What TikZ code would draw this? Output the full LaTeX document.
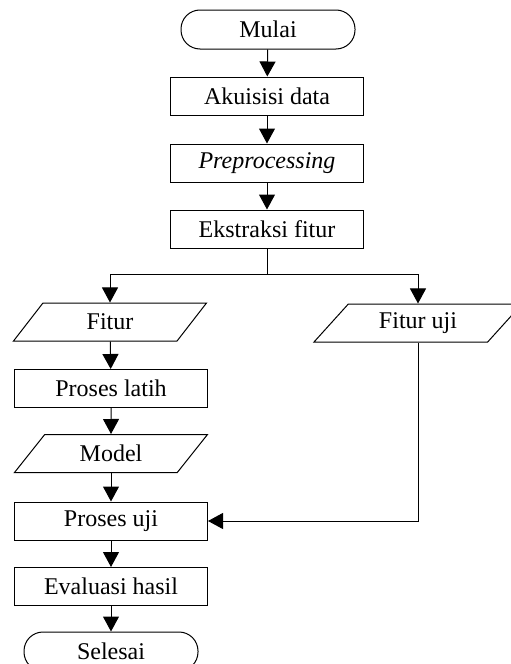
\documentclass[tikz,border=0pt]{standalone}
\usepackage{fontspec}
\setmainfont{Liberation Serif}
\usetikzlibrary{arrows.meta,shapes.geometric}

\begin{document}
\begin{tikzpicture}[x=0.5pt, y=-0.5pt, line width=0.5pt,
    font=\fontsize{12}{14}\selectfont,
    proses/.style={draw, rectangle, minimum width=96.5pt, minimum height=19pt},
    terminal/.style={draw, rectangle, rounded corners=9.5pt, minimum width=87pt, minimum height=19.5pt},
    dataio/.style={draw, trapezium, trapezium left angle=45, trapezium right angle=135,
        trapezium stretches body=true, minimum width=96.5pt, minimum height=19pt},
    panah/.style={-{Triangle[length=7.5pt, width=8pt]}}]
            \useasboundingbox (0,0) rectangle (510,664);

            % Start and preparation of data
            \node[terminal] (mulai) at (268,29.5) {Mulai};
            \node[proses] (akuisisi) at (267,96) {Akuisisi data};
            \node[proses] (prepro) at (267,163) {\textit{Preprocessing}};
            \node[proses] (ekstraksi) at (267,229) {Ekstraksi fitur};
            \coordinate (cabang) at (267,274);

            % Feature sets
            \node[dataio] (fitur) at (110,322) {Fitur};
            \node[dataio, minimum width=104pt] (fituruji) at (418,323) {Fitur uji};

            % Training and testing
            \node[proses] (latih) at (111,388.5) {Proses latih};
            \node[dataio] (model) at (111,453.5) {Model};
            \node[proses] (uji) at (111,521) {Proses uji};
            \node[proses] (evaluasi) at (111,586.5) {Evaluasi hasil};
            \node[terminal] (selesai) at (111,651.5) {Selesai};

            % Connections
            \draw[panah] (mulai) -- (akuisisi);
            \draw[panah] (akuisisi) -- (prepro);
            \draw[panah] (prepro) -- (ekstraksi);
            \draw (ekstraksi) -- (cabang);
            \draw[panah] (cabang) -| (fitur);
            \draw[panah] (cabang) -| (fituruji);
            \draw[panah] (fitur) -- (latih);
            \draw[panah] (latih) -- (model);
            \draw[panah] (model) -- (uji);
            \draw[panah] (fituruji) |- (uji);
            \draw[panah] (uji) -- (evaluasi);
            \draw[panah] (evaluasi) -- (selesai);
        \end{tikzpicture}
\end{document}
